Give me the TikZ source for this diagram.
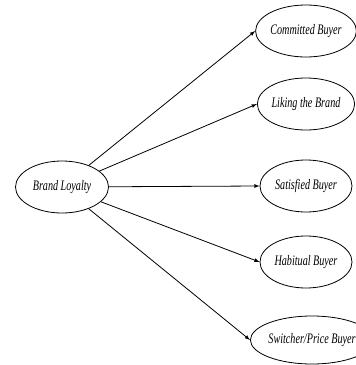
\documentclass[tikz,border=0pt]{standalone}
\usepackage{fontspec}
\setmainfont{Liberation Serif}[FakeStretch=0.7]
\usepackage{tikz}
\usetikzlibrary{shapes.geometric}
\tikzset{
    oval-box/.style = {draw=black, fill=white, line width=0.8pt, ellipse, inner sep=0pt, minimum width=92pt, minimum height=52pt, font=\itshape\fontsize{14.5}{16}\selectfont},
    link-arrow/.style = {draw=black, line width=0.8pt, -latex},
}

\begin{document}
\begin{tikzpicture}[x=1pt,y=-1pt]
\useasboundingbox (0,0) rectangle (356,365);
\node [oval-box, minimum width=93pt] (loyalty) at (62,187) {Brand Loyalty};
\node [oval-box] (committed) at (306,31) {Committed Buyer};
\node [oval-box] (liking) at (306,104) {Liking the Brand};
\node [oval-box] (satisfied) at (306,186) {Satisfied Buyer};
\node [oval-box] (habitual) at (306,262) {Habitual Buyer};
\node [oval-box, minimum width=108pt, minimum height=48pt] (switcher) at (312,340) {Switcher/Price Buyer};
\foreach \target in {committed, liking, satisfied, habitual, switcher}
    \draw [link-arrow] (loyalty) -- (\target.west);
\end{tikzpicture}
\end{document}
